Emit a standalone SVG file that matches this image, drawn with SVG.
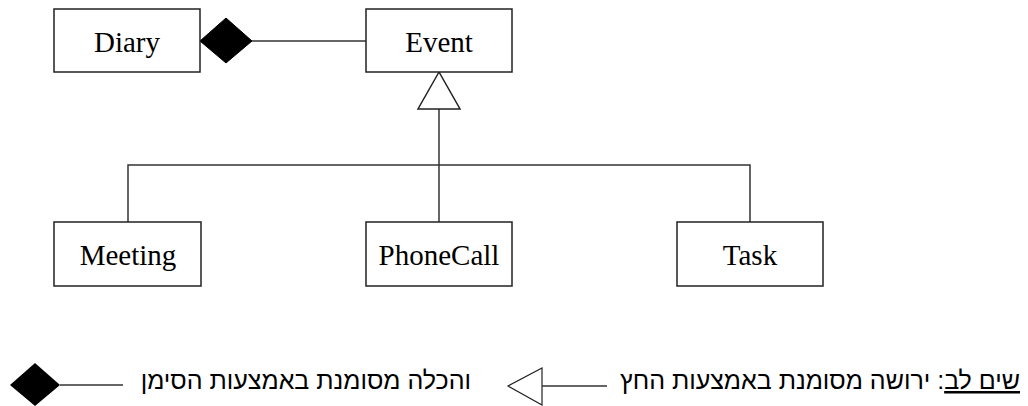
<svg xmlns="http://www.w3.org/2000/svg" width="1028" height="406" viewBox="0 0 1028 406">
<style>
.box{fill:#fff;stroke:#222;stroke-width:1.5}
.lbl{font-family:"Liberation Serif","Times New Roman",serif;font-size:29px;fill:#000;text-anchor:middle}
.ln{fill:none;stroke:#333;stroke-width:1.5}
.heb{font-family:"Liberation Sans","DejaVu Sans",sans-serif;font-size:25px;fill:#000}
</style>
<g id="connectors">
<line class="ln" x1="252" y1="41" x2="366" y2="41"/>
<polygon points="200,41 226,18 252,41 226,63" fill="#000" stroke="#000" stroke-width="1"/>
<polyline class="ln" points="128,222 128,165 750,165 750,222"/>
<line class="ln" x1="439" y1="109" x2="439" y2="222"/>
<polygon points="439,72 418,109 460,109" fill="#fff" stroke="#222" stroke-width="1.5"/>
</g>
<g id="Diary"><rect class="box" x="54" y="9" width="146" height="63"/><text class="lbl" x="127" y="52">Diary</text></g>
<g id="Event"><rect class="box" x="366" y="9" width="146" height="63"/><text class="lbl" x="439" y="52">Event</text></g>
<g id="Meeting"><rect class="box" x="54" y="222" width="147" height="64"/><text class="lbl" x="128" y="265">Meeting</text></g>
<g id="PhoneCall"><rect class="box" x="366" y="222" width="146" height="64"/><text class="lbl" x="439" y="265">PhoneCall</text></g>
<g id="Task"><rect class="box" x="677" y="222" width="146" height="64"/><text class="lbl" x="750" y="265">Task</text></g>
<g id="legend">
<polygon points="10,385 35,363 60,385 35,406" fill="#000"/>
<line class="ln" x1="60" y1="385" x2="123" y2="385"/>
<text class="heb" x="471" y="389" direction="rtl" text-anchor="start">והכלה מסומנת באמצעות הסימן</text>
<polygon points="508,386 542,368 542,405" fill="#fff" stroke="#222" stroke-width="1.2"/>
<line class="ln" x1="542" y1="386" x2="607" y2="386"/>
<text class="heb" x="1020" y="389" direction="rtl" text-anchor="start"><tspan text-decoration="underline">שים לב</tspan>: ירושה מסומנת באמצעות החץ</text>
</g>
</svg>
